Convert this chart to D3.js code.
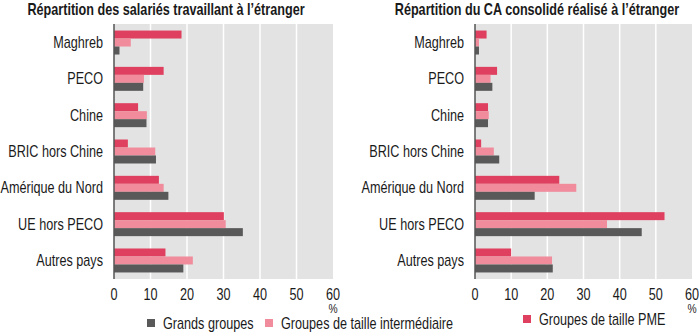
<!DOCTYPE html>
<html><head><meta charset="utf-8">
<script src="https://cdn.jsdelivr.net/npm/d3@7"></script>
<style>
body{margin:0;background:#fff;}
text{font-family:"Liberation Sans",Arial,sans-serif;fill:#1a1a1a;}
</style></head>
<body><svg id="c" width="700" height="332"></svg>
<script>
const categories = ["Maghreb","PECO","Chine","BRIC hors Chine","Amérique du Nord","UE hors PECO","Autres pays"];
const seriesNames = ["Groupes de taille PME","Groupes de taille intermédiaire","Grands groupes"];
// Left panel: Répartition des salariés travaillant à l'étranger
const salPME   = [18.5, 13.6, 6.6, 3.8, 12.3, 30.1, 14.1];
const salInter = [4.6, 8.2, 9.0, 11.3, 13.6, 30.6, 21.6];
const salGrand = [1.5, 8.0, 8.9, 11.5, 14.9, 35.3, 19.0];
// Right panel: Répartition du CA consolidé réalisé à l'étranger
const caPME   = [3.2, 6.1, 3.6, 1.7, 23.3, 52.4, 10.0];
const caInter = [1.1, 4.3, 3.8, 5.2, 28.0, 36.5, 21.3];
const caGrand = [1.1, 4.8, 3.6, 6.7, 16.5, 46.1, 21.5];
const xTicks = [0,10,20,30,40,50,60];
const titles = ["Répartition des salariés travaillant à l’étranger","Répartition du CA consolidé réalisé à l’étranger"];

const colors = {"Groupes de taille PME":"#e0405f","Groupes de taille intermédiaire":"#f08c9c","Grands groupes":"#595959"};
const svg = d3.select("#c");
const SX = 0.79;

function ntext(sel, xf, yf){
  return sel.attr("transform",(d,i)=>`translate(${xf(d,i)},${yf(d,i)}) scale(${SX},1)`);
}

function panel(x0, x1, titleX, labelX, title, data){
  const g = svg.append("g");
  const x = d3.scaleLinear().domain([0,60]).range([x0,x1]);
  const y = d3.scaleBand().domain(categories).range([24,279]).paddingInner(0.34).paddingOuter(0.18);
  const y1 = d3.scaleBand().domain(seriesNames).range([0,y.bandwidth()]);
  g.append("rect").attr("x",x0).attr("y",24).attr("width",x1-x0).attr("height",255).attr("fill","#e3e3e3");
  g.selectAll(".grid").data(xTicks.slice(1,-1)).enter().append("line")
    .attr("x1",d=>x(d)).attr("x2",d=>x(d)).attr("y1",24).attr("y2",279)
    .attr("stroke","#fff").attr("stroke-width",1.5);
  const rows = categories.map((c,i)=>({c, vals: seriesNames.map((s,j)=>({s, v:data[j][i]}))}));
  const grp = g.selectAll(".cat").data(rows).enter().append("g").attr("transform",d=>`translate(0,${y(d.c)})`);
  grp.selectAll("rect").data(d=>d.vals).enter().append("rect")
    .attr("x",x(0)).attr("y",d=>y1(d.s)).attr("height",y1.bandwidth())
    .attr("width",d=>x(d.v)-x(0)).attr("fill",d=>colors[d.s]);
  g.append("line").attr("x1",x0).attr("x2",x0).attr("y1",24).attr("y2",279).attr("stroke","#555").attr("stroke-width",1.5);
  ntext(g.selectAll(".cl").data(categories).enter().append("text"), ()=>labelX, d=>y(d)+y.bandwidth()/2)
    .attr("dy","0.35em").attr("text-anchor","end").attr("font-size",16).text(d=>d);
  ntext(g.selectAll(".tl").data(xTicks).enter().append("text"), d=>x(d), ()=>300)
    .attr("text-anchor","middle").attr("font-size",16).text(d=>d);
  ntext(g.append("text"), ()=>x(60), ()=>313).attr("text-anchor","middle").attr("font-size",13).text("%");
  ntext(g.append("text"), ()=>titleX, ()=>15).attr("text-anchor","middle")
    .attr("font-size",16).attr("font-weight","bold").text(title);
}
panel(114, 333, 166, 103, titles[0], [salPME, salInter, salGrand]);
panel(475, 692, 537, 464, titles[1], [caPME, caInter, caGrand]);

const legendItems = [
  {s:"Grands groupes", x:147, y:323},
  {s:"Groupes de taille intermédiaire", x:265, y:323},
  {s:"Groupes de taille PME", x:523, y:319}
];
const lg = svg.selectAll(".lg").data(legendItems).enter().append("g");
lg.append("rect").attr("x",d=>d.x).attr("y",d=>d.y-4).attr("width",8).attr("height",8).attr("fill",d=>colors[d.s]);
ntext(lg.append("text"), d=>d.x+16, d=>d.y).attr("dy","0.35em").attr("font-size",16).text(d=>d.s);
</script></body></html>
